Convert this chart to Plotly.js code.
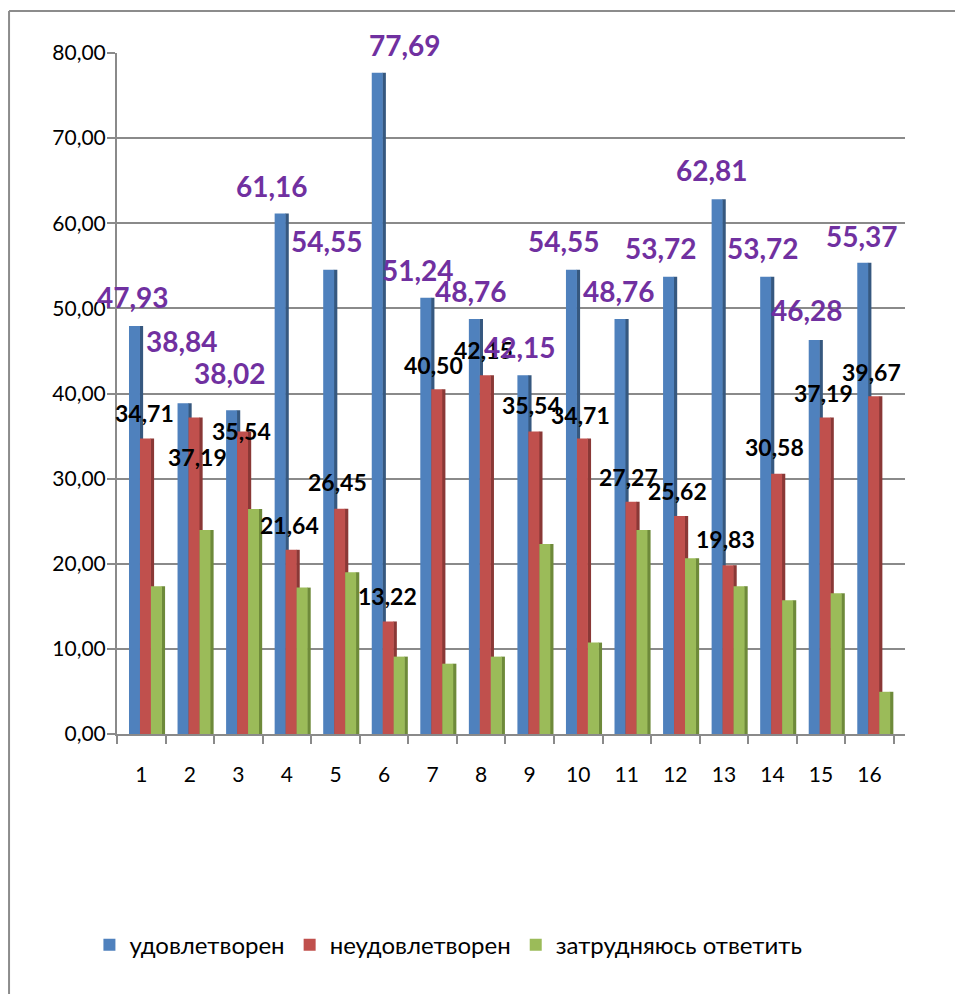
<!DOCTYPE html>
<html>
<head>
<meta charset="utf-8">
<script src="https://cdn.plot.ly/plotly-3.0.1.min.js"></script>
<style>html,body{margin:0;padding:0;background:#fff;}#chart{width:955px;height:994px;}</style>
</head>
<body>
<div id="chart"></div>
<script>
// ---- data ----
const categories = ['1','2','3','4','5','6','7','8','9','10','11','12','13','14','15','16'];
const seriesNames = ['удовлетворен', 'неудовлетворен', 'затрудняюсь ответить'];
const satisfied   = [47.93, 38.84, 38.02, 61.16, 54.55, 77.69, 51.24, 48.76, 42.15, 54.55, 48.76, 53.72, 62.81, 53.72, 46.28, 55.37];
const unsatisfied = [34.71, 37.19, 35.54, 21.64, 26.45, 13.22, 40.50, 42.15, 35.54, 34.71, 27.27, 25.62, 19.83, 30.58, 37.19, 39.67];
const undecided   = [17.36, 23.97, 26.44, 17.20, 19.00, 9.09, 8.26, 9.09, 22.31, 10.74, 23.97, 20.66, 17.36, 15.70, 16.53, 4.96];
const yTickVals = [0, 10, 20, 30, 40, 50, 60, 70, 80];

// ---- label placement (pixel offsets from group centre / bar top) ----
const blueDx = [-8, -8, -8, -15, -8, 21, -15, -10, -10, -14, -8, -14, -12, -9, -14, -8];
const blueDy = [29, 62, 37, 27, 29, 28, 28, 28, 28, 29, 28, 29, 29, 29, 30, 27];
const redDx  = [3, 8, 3, 3, 2, 3, 1, 2, 2, 2, 2, 2, 2, 2, 2, 2];
const redDy  = [26, -40, 0, 25, 27, 25, 24, 25, 26, 24, 25, 25, 26, 27, 24, 24];

// ---- styles ----
const FONT = 'Lato, "Noto Sans", "DejaVu Sans", sans-serif';
const colors = ['#4F81BD', '#C0504D', '#9BBB59'];
const sideColors = ['#36587F', '#8A3836', '#6E8A3A'];
const offsets = [-0.253, -0.027, 0.199];
const barW = 0.226;
const sideW = 0.075;
const gridCol = '#8A8A8A';

const fmt = v => v.toFixed(2).replace('.', ',');
const values = [satisfied, unsatisfied, undecided];

const traces = [];
values.forEach((vals, k) => {
  traces.push({
    type: 'bar', x: categories, y: vals, offset: offsets[k] + barW - 0.01, width: sideW,
    marker: {color: sideColors[k]}, showlegend: false, hoverinfo: 'skip'
  });
  traces.push({
    type: 'bar', name: seriesNames[k], x: categories, y: vals, offset: offsets[k], width: barW,
    marker: {color: colors[k], line: {width: 0}}
  });
});

// category axis: annotations are placed by category index
const annotations = [];
categories.forEach((c, i) => {
  annotations.push({
    x: i, y: satisfied[i], xref: 'x', yref: 'y', text: '<b>' + fmt(satisfied[i]) + '</b>',
    showarrow: false, xanchor: 'center', yanchor: 'middle', xshift: blueDx[i], yshift: blueDy[i],
    font: {family: FONT, size: 28, color: '#7030A0'}
  });
  annotations.push({
    x: i, y: unsatisfied[i], xref: 'x', yref: 'y', text: '<b>' + fmt(unsatisfied[i]) + '</b>',
    showarrow: false, xanchor: 'center', yanchor: 'middle', xshift: redDx[i], yshift: redDy[i],
    font: {family: FONT, size: 23, color: '#000000'}
  });
});

const layout = {
  width: 955, height: 994,
  margin: {l: 117, r: 50, t: 53, b: 260},
  paper_bgcolor: '#ffffff', plot_bgcolor: '#ffffff',
  separators: ', ',
  barmode: 'overlay',
  font: {family: FONT, size: 19, color: '#000'},
  xaxis: {
    type: 'category', range: [-0.5, 15.73], showgrid: false, zeroline: false,
    showline: true, linecolor: gridCol, linewidth: 2,
    ticks: 'outside', tickson: 'boundaries', ticklen: 8, tickwidth: 2, tickcolor: gridCol,
    ticklabelstandoff: 21,
    tickfont: {family: FONT, size: 21, color: '#000'}
  },
  yaxis: {
    range: [0, 80], tickvals: yTickVals, tickformat: '.2f',
    showgrid: true, gridcolor: gridCol, gridwidth: 2, zeroline: false,
    showline: true, linecolor: gridCol, linewidth: 2,
    ticks: 'outside', ticklen: 8, tickwidth: 2, tickcolor: gridCol,
    ticklabelstandoff: -3,
    tickfont: {family: FONT, size: 21, color: '#000'}
  },
  legend: {
    orientation: 'h', x: -0.035, xanchor: 'left', y: -0.31, yanchor: 'middle',
    font: {family: FONT, size: 24, color: '#000'}, traceorder: 'normal',
    itemwidth: 30
  },
  annotations: annotations,
  shapes: [
    {type: 'line', xref: 'paper', yref: 'paper', x0: -0.137, x1: -0.137, y0: 1.0617, y1: -0.40, line: {color: '#8C8C8C', width: 2}},
    {type: 'line', xref: 'paper', yref: 'paper', x0: -0.137, x1: 1.08, y0: 1.0617, y1: 1.0617, line: {color: '#8C8C8C', width: 2}}
  ]
};

Plotly.newPlot('chart', traces, layout, {displayModeBar: false, staticPlot: true});
</script>
</body>
</html>
